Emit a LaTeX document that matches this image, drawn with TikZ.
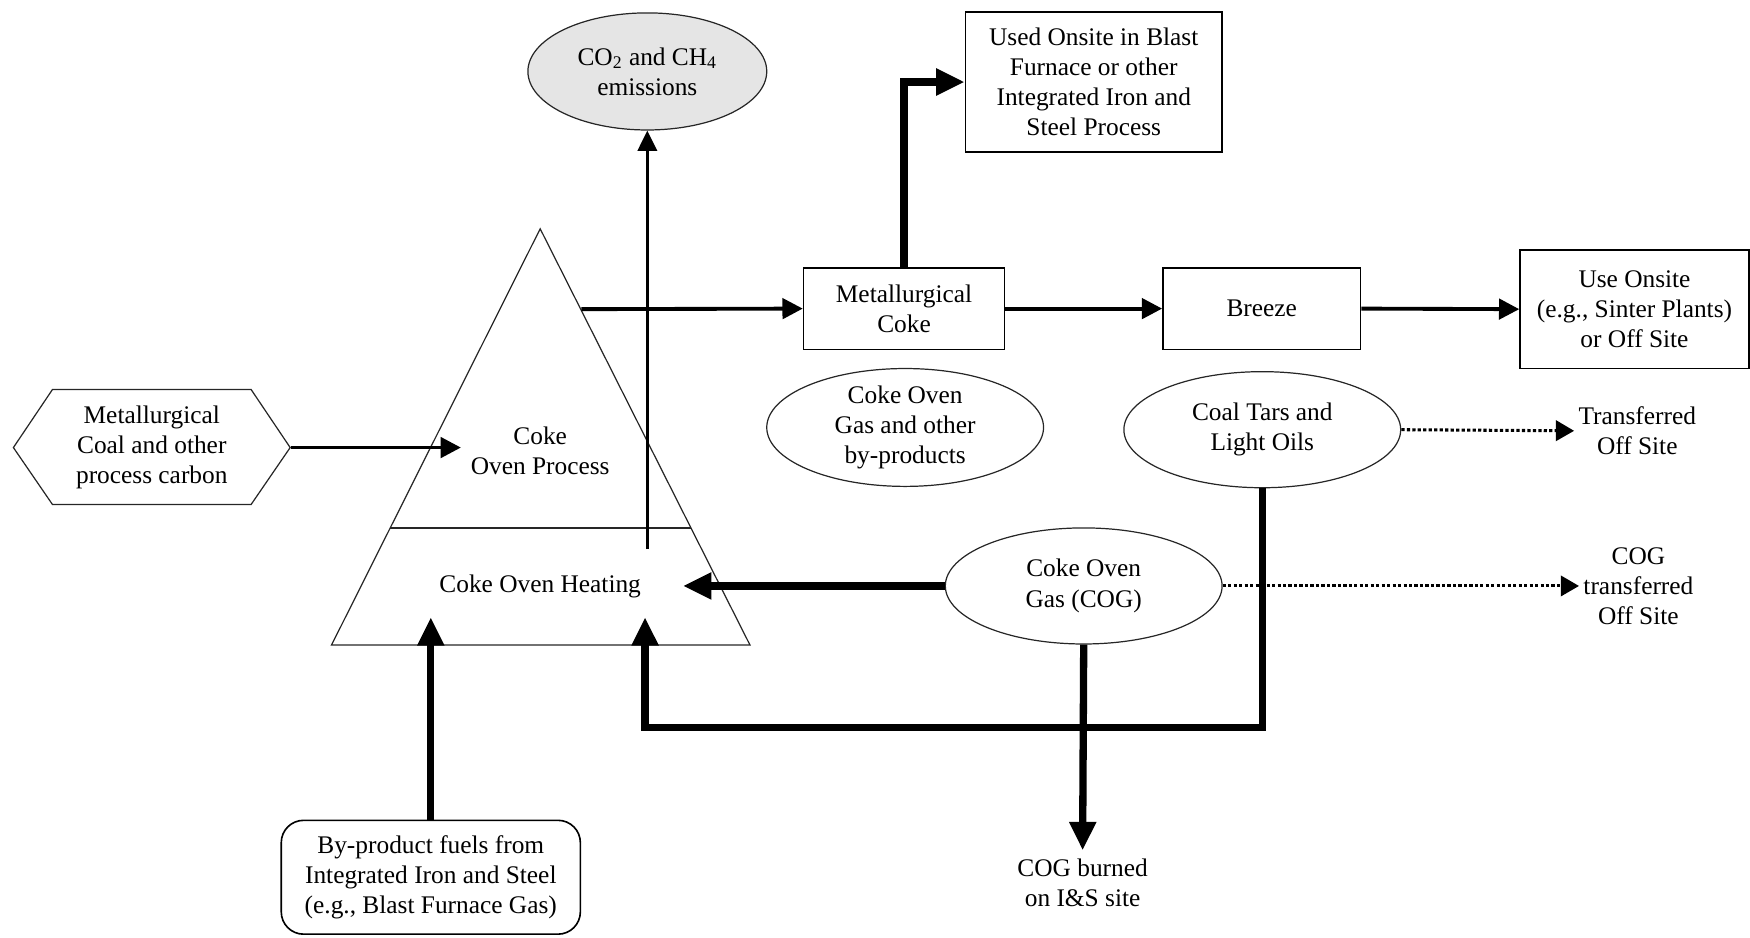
\documentclass[tikz,border=0pt]{standalone}
\usepackage{fontspec}
\setmainfont{Liberation Serif}
\usetikzlibrary{arrows.meta,shapes.geometric}
\begin{document}
\begin{tikzpicture}[x=0.55pt,y=-0.55pt,
  every node/.style={font=\fontsize{12.5}{14.85}\selectfont, align=center, inner sep=2pt},
  boxnode/.style={draw, line width=0.8pt, inner sep=0pt},
  ell/.style={draw=black!85, line width=0.6pt, ellipse, inner sep=0pt, minimum width=136.4pt, minimum height=57.2pt},
  shapeline/.style={draw=black!85, line width=0.6pt},
  thinarrow/.style={line width=1.3pt, -{Triangle[length=10pt,width=9.5pt]}},
  medarrow/.style={line width=1.9pt, -{Triangle[length=10pt,width=10pt]}},
  thickarrow/.style={line width=3.6pt, -{Triangle[length=14pt,width=12.5pt]}},
  dotarrow/.style={line width=1.5pt, dash pattern=on 1.6pt off 1.1pt, -{Triangle[length=9pt,width=10pt]}},
]
\useasboundingbox (0,0) rectangle (1568,840);

% hexagon input
\draw[shapeline] (12,401) -- (47,349) -- (225,349) -- (260,401) -- (225,452) -- (47,452) -- cycle;
\node[minimum width=136.4pt, minimum height=56pt, inner sep=0pt] (hex) at (136,401) {Metallurgical\\Coal and other\\process carbon};

% triangle
\draw[shapeline] (484,205) -- (672,578) -- (297,578) -- cycle;
\draw[shapeline] (349,473) -- (619,473);
\node (proc) at (484,404) {Coke\\Oven Process};
\node (heat) at (484,525) {Coke Oven Heating};
\coordinate (procin) at (413,401);
\coordinate (co2src) at (580,492);
\coordinate (triR) at (521,277);
\coordinate (heatR) at (612,525);
\coordinate (heatB1) at (386,553);
\coordinate (heatB2) at (578,553);
\coordinate (loop) at (578,652);

% emissions
\node[ell, fill=black!10, minimum width=117.7pt, minimum height=57.7pt] (co2) at (580,64) {CO\textsubscript{2} and CH\textsubscript{4}\\emissions};

% boxes
\node[boxnode, minimum width=99pt, minimum height=40.2pt] (met) at (810,276.5) {Metallurgical\\Coke};
\node[boxnode, minimum width=126.5pt, minimum height=68.75pt] (used) at (980,73.5) {Used Onsite in Blast\\Furnace or other\\Integrated Iron and\\Steel Process};
\node[boxnode, minimum width=97.35pt, minimum height=40.2pt] (breeze) at (1130.5,276.5) {Breeze};
\node[boxnode, minimum width=112.75pt, minimum height=58.3pt] (useon) at (1464.5,277) {Use Onsite\\(e.g., Sinter Plants)\\or Off Site};
\node[boxnode, rounded corners=11pt, minimum width=147.4pt, minimum height=56.1pt] (bypro) at (386,786) {By-product fuels from\\Integrated Iron and Steel\\(e.g., Blast Furnace Gas)};

% ellipses
\node[ell] (byp) at (811,383) {Coke Oven\\Gas and other\\by-products};
\node[ell] (tars) at (1131,385) {Coal Tars and\\Light Oils};
\node[ell] (cog) at (971,525) {Coke Oven\\Gas (COG)};

% free text
\node (transoff) at (1467,386) {Transferred\\Off Site};
\node (cogoff) at (1468,525) {COG\\transferred\\Off Site};
\node[inner sep=4pt] (burned) at (970,791) {COG burned\\on I\&S site};

% connectors
\draw[medarrow] (hex.east) -- (procin);
\draw[thinarrow] (co2src) -- (co2.south);
\draw[medarrow] (triR) -- (met.west);
\draw[medarrow] (met.east) -- (breeze.west);
\draw[medarrow] (breeze.east) -- (useon.west);
\draw[thickarrow] (met.north) |- (used.west);
\draw[thickarrow] (cog.west) -- (heatR);
\draw[dotarrow] (tars.east) -- (transoff.west);
\draw[dotarrow] (cog.east) -- (cogoff.west);
\draw[thickarrow] (tars.south) |- (loop) -- (heatB2);
\draw[thickarrow] (cog.south) -- (burned.north);
\draw[thickarrow] (bypro.north) -- (heatB1);
\end{tikzpicture}
\end{document}
